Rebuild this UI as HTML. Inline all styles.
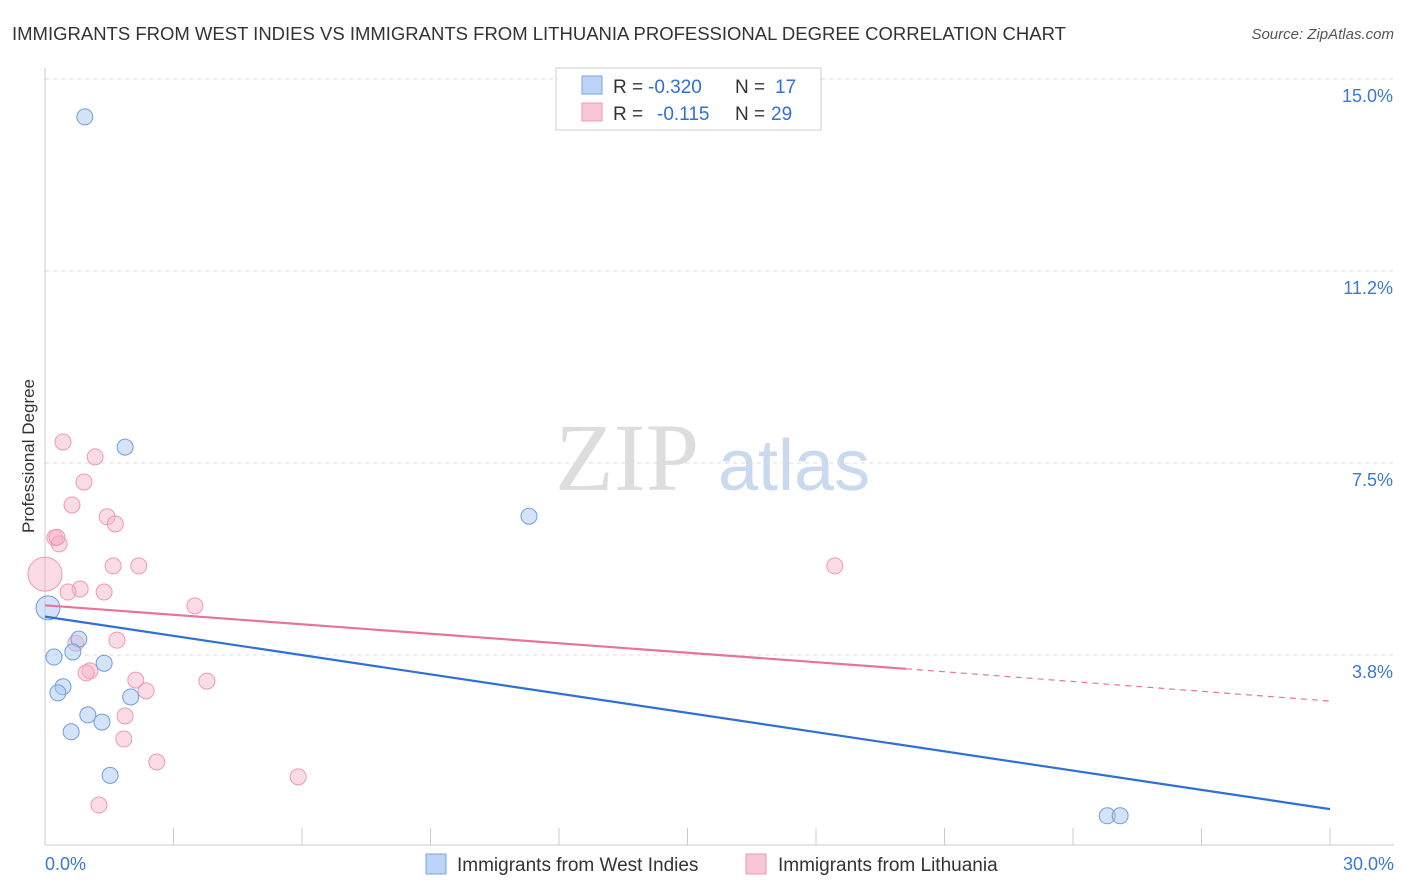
<!DOCTYPE html>
<html><head><meta charset="utf-8">
<style>
body{margin:0;background:#fff;font-family:"Liberation Sans",sans-serif;}
#wrap{position:relative;width:1406px;height:892px;overflow:hidden;}
</style></head>
<body>
<div id="wrap">
<svg id="svg" width="1406" height="892" xmlns="http://www.w3.org/2000/svg">
<text x="12" y="40" font-size="18.5" fill="#333">IMMIGRANTS FROM WEST INDIES VS IMMIGRANTS FROM LITHUANIA PROFESSIONAL DEGREE CORRELATION CHART</text>
<text x="1394" y="39" font-size="15" fill="#555" font-style="italic" text-anchor="end">Source: ZipAtlas.com</text>
<text x="34" y="456" font-size="17" fill="#333" transform="rotate(-90 34 456)" text-anchor="middle">Professional Degree</text>
<text x="555" y="490" font-size="96" fill="#ddd" font-family="Liberation Serif">ZIP</text>
<text x="718" y="490" font-size="72" fill="#c9d9ef">atlas</text>
<g id="grid"></g><g id="marks"></g>
<g>
<rect x="556" y="68" width="265" height="62" fill="#fff" stroke="#ccc"/>
<rect x="582" y="76" width="20" height="18" fill="#bcd4f5" stroke="#7aa5e0"/>
<rect x="582" y="103" width="20" height="18" fill="#f9c6d4" stroke="#ec9ab2"/>
<text x="613" y="93" font-size="19" fill="#333">R =</text>
<text x="648" y="93" font-size="19" fill="#2f6fd6">-0.320</text>
<text x="735" y="93" font-size="19" fill="#333">N =</text>
<text x="775" y="93" font-size="19" fill="#2f6fd6">17</text>
<text x="613" y="120" font-size="19" fill="#333">R =</text>
<text x="657" y="120" font-size="19" fill="#2f6fd6">-0.115</text>
<text x="735" y="120" font-size="19" fill="#333">N =</text>
<text x="771" y="120" font-size="19" fill="#2f6fd6">29</text>
</g>
<g>
<rect x="426" y="854" width="20" height="20" fill="#bcd4f5" stroke="#7aa5e0"/>
<text x="457" y="871" font-size="19" fill="#333">Immigrants from West Indies</text>
<rect x="746" y="854" width="20" height="20" fill="#f9c6d4" stroke="#ec9ab2"/>
<text x="778" y="871" font-size="19" fill="#333">Immigrants from Lithuania</text>
</g>
</svg>
</div>
<script>
const yTicks=[3.8,7.5,11.2,15.0];
const yTickVals=[3.75,7.5,11.25,15];
const xTickLabels=["0.0%","30.0%"];
const blueX=[0.93,1.87,11.3,0.07,0.79,0.21,0.65,1.38,0.42,0.30,2.0,1.0,1.33,0.61,1.52,24.8,25.1];
const blueY=[14.26,7.81,6.46,4.67,4.06,3.71,3.81,3.59,3.13,3.01,2.93,2.58,2.44,2.25,1.40,0.61,0.61];
const blueR=[8,8,8,12,8,8,8,8,8,8,8,8,8,8,8,8,8];
const pinkX=[0.42,1.17,0.91,0.63,1.45,1.64,0.23,0.33,0.0,1.59,2.19,0.82,0.54,1.38,3.5,0.72,1.68,1.05,0.96,2.12,3.78,2.36,1.87,1.84,2.61,5.91,1.26,18.44,0.28];
const pinkY=[7.91,7.62,7.13,6.68,6.45,6.31,6.04,5.92,5.33,5.49,5.49,5.04,4.98,4.98,4.71,3.98,4.04,3.44,3.40,3.26,3.24,3.05,2.56,2.11,1.66,1.37,0.82,5.49,6.05];
const pinkR=[8,8,8,8,8,8,8,8,17,8,8,8,8,8,8,8,8,8,8,8,8,8,8,8,8,8,8,8,8];
const blueTrend=[[0,4.5],[30,0.74]];
const pinkTrend=[[0,4.72],[20.1,3.48],[30,2.85]];
const X=v=>45+v/30*1285, Y=v=>847-v*51.2;
const NS="http://www.w3.org/2000/svg";
const grid=document.getElementById('grid'), marks=document.getElementById('marks');
function mk(tag,at,p){const e=document.createElementNS(NS,tag);for(const k in at)e.setAttribute(k,at[k]);p.appendChild(e);return e;}
let ax=mk('line',{x1:45,y1:68,x2:45,y2:845,stroke:'#ccc'},grid);


let bx=mk('line',{x1:45,y1:845,x2:1394,y2:845,stroke:'#ccc'},grid);


for(let i=1;i<=10;i++){let t=mk('line',{x1:45+i*128.5,y1:828,x2:45+i*128.5,y2:845,stroke:'#ccc'},grid);

}
yTickVals.forEach((v,i)=>{let g=mk('line',{x1:45,y1:Y(v),x2:1394,y2:Y(v),stroke:'#ddd','stroke-dasharray':'4,4'},grid);


let t=mk('text',{x:1393,y:Y(v)+23,'font-size':18,fill:'#3a78d4','text-anchor':'end'},grid);t.textContent=yTicks[i].toFixed(1)+'%';

});
[[45,'start'],[1394,'end']].forEach((a,i)=>{let t=mk('text',{x:a[0],y:870,'font-size':18,fill:'#3a78d4','text-anchor':a[1]},grid);t.textContent=xTickLabels[i];

});
pinkX.forEach((v,i)=>{let c=mk('circle',{cx:X(v),cy:Y(pinkY[i]),r:pinkR[i],fill:'rgba(246,176,198,0.45)',stroke:'#ec9ab2','stroke-width':1},marks);

});
blueX.forEach((v,i)=>{let c=mk('circle',{cx:X(v),cy:Y(blueY[i]),r:blueR[i],fill:'rgba(170,200,240,0.5)',stroke:'#6f9ddc','stroke-width':1},marks);

});
let bl=mk('line',{x1:X(blueTrend[0][0]),y1:Y(blueTrend[0][1]),x2:X(blueTrend[1][0]),y2:Y(blueTrend[1][1]),stroke:'#2f6fd6','stroke-width':2.2},marks);


let pl=mk('line',{x1:X(pinkTrend[0][0]),y1:Y(pinkTrend[0][1]),x2:X(pinkTrend[1][0]),y2:Y(pinkTrend[1][1]),stroke:'#e8739a','stroke-width':2.2},marks);


let pd=mk('line',{x1:X(pinkTrend[1][0]),y1:Y(pinkTrend[1][1]),x2:X(pinkTrend[2][0]),y2:Y(pinkTrend[2][1]),stroke:'#e8739a','stroke-width':1.2,'stroke-dasharray':'6,5'},marks);


</script>
</body></html>
